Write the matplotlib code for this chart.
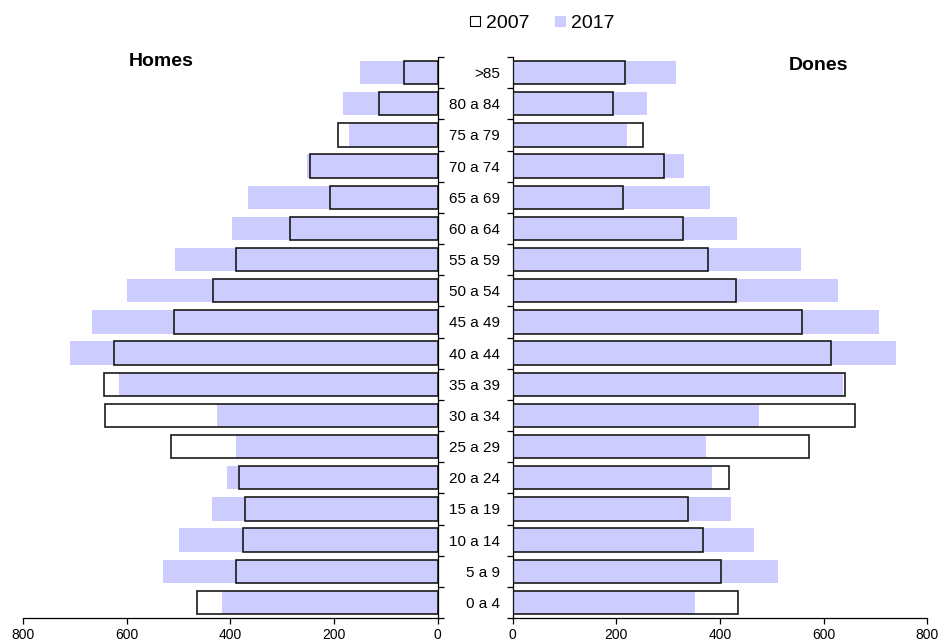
import matplotlib.pyplot as plt
from matplotlib.lines import Line2D
import numpy as np

plt.rcParams['font.family'] = ['Liberation Sans', 'DejaVu Sans']

# grups d'edat, de baix a dalt
edats = ['0 a 4', '5 a 9', '10 a 14', '15 a 19', '20 a 24', '25 a 29',
         '30 a 34', '35 a 39', '40 a 44', '45 a 49', '50 a 54', '55 a 59',
         '60 a 64', '65 a 69', '70 a 74', '75 a 79', '80 a 84', '>85']

homes_2007 = [464, 390, 375, 372, 383, 515, 641, 644, 625, 509, 434, 390,
              284, 208, 246, 192, 114, 65]
homes_2017 = [416, 529, 500, 435, 406, 389, 426, 615, 709, 667, 599, 507,
              397, 365, 252, 171, 182, 150]
dones_2007 = [434, 402, 367, 338, 418, 572, 660, 641, 615, 558, 431, 377,
              329, 213, 291, 251, 194, 216]
dones_2017 = [352, 511, 465, 422, 385, 373, 475, 638, 740, 707, 627, 556,
              433, 381, 330, 220, 260, 316]

lila = '#ccccff'
vora = '#1a1a1a'
y = np.arange(len(edats))
amp = 0.75

fig = plt.figure(figsize=(9.4, 6.42), dpi=100)
axL = fig.add_axes([23/940, 1-618/642, (437.7-23)/940, 561/642])
axR = fig.add_axes([512.7/940, 1-618/642, (927.3-512.7)/940, 561/642])

axL.barh(y, homes_2017, height=amp, color=lila, zorder=2)
axL.barh(y, homes_2007, height=amp, facecolor='none', edgecolor=vora, linewidth=1.2, zorder=3)
axR.barh(y, dones_2017, height=amp, color=lila, zorder=2)
axR.barh(y, dones_2007, height=amp, facecolor='none', edgecolor=vora, linewidth=1.2, zorder=3)

for ax in (axL, axR):
    ax.set_ylim(-0.5, len(edats) - 0.5)
    ax.set_xticks([0, 200, 400, 600, 800])
    ax.tick_params(axis='x', labelsize=10, length=4, width=0.9, pad=3)
    ax.spines['top'].set_visible(False)
    ax.spines['bottom'].set_linewidth(0.9)
    ax.set_yticks(np.arange(len(edats) + 1) - 0.5)
    ax.set_yticklabels([])

axL.set_xlim(800, 0)
axR.set_xlim(0, 800)

axL.spines['left'].set_visible(False)
axL.spines['right'].set_linewidth(0.9)
axL.yaxis.tick_right()
axL.tick_params(axis='y', length=4, width=0.9, direction='out')

axR.spines['right'].set_visible(False)
axR.spines['left'].set_linewidth(0.9)
axR.tick_params(axis='y', length=4, width=0.9, direction='out')
# etiquetes d'edat al centre de cada barra
axR.set_yticks(y, minor=True)
axR.set_yticklabels(edats, minor=True)
axR.tick_params(axis='y', which='minor', length=0, pad=9, labelsize=11)

fig.text(161/940, 1-61/642, 'Homes', fontsize=14, fontweight='bold', ha='center', va='center')
fig.text(818/940, 1-66/642, 'Dones', fontsize=14, fontweight='bold', ha='center', va='center')

h07 = Line2D([], [], marker='s', linestyle='none', markersize=7, markerfacecolor='white',
             markeredgecolor='black', markeredgewidth=0.8, label='2007')
h17 = Line2D([], [], marker='s', linestyle='none', markersize=7, markerfacecolor=lila,
             markeredgecolor=lila, markeredgewidth=0.8, label='2017')
fig.legend(handles=[h07, h17], loc='center', bbox_to_anchor=(542/940, 1-23/642),
           ncol=2, frameon=False, fontsize=14, handlelength=0.55,
           handletextpad=0.3, columnspacing=1.3)

fig.savefig('out.png', dpi=100)
